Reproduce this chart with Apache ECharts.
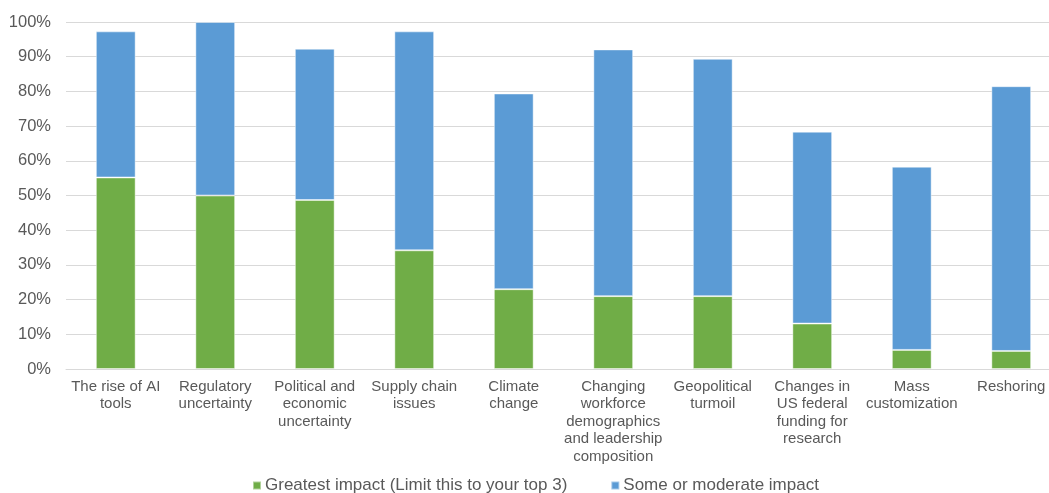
<!DOCTYPE html>
<html>
<head>
<meta charset="utf-8">
<script src="https://cdn.jsdelivr.net/npm/echarts@6/dist/echarts.min.js"></script>
<style>
  html, body { margin: 0; padding: 0; background: #fff; overflow: hidden; }
  #chart { width: 1049px; height: 493px; }
</style>
</head>
<body>
<div id="chart"></div>
<script>
// Factors and their share of respondents (%)
const categories = [
  'The rise of AI\ntools',
  'Regulatory\nuncertainty',
  'Political and\neconomic\nuncertainty',
  'Supply chain\nissues',
  'Climate\nchange',
  'Changing\nworkforce\ndemographics\nand leadership\ncomposition',
  'Geopolitical\nturmoil',
  'Changes in\nUS federal\nfunding for\nresearch',
  'Mass\ncustomization',
  'Reshoring'
];
const greatestImpact = [55.2, 50.0, 48.7, 34.2, 23.0, 21.0, 21.0, 13.1, 5.5, 5.2];
const someImpact     = [42.1, 50.0, 43.6, 63.1, 56.4, 71.1, 68.4, 55.3, 52.8, 76.3];
const seriesNames = ['Greatest impact (Limit this to your top 3)', 'Some or moderate impact'];

const font = '"Liberation Sans", Arial, sans-serif';
const chart = echarts.init(document.getElementById('chart'), null, { renderer: 'canvas' });

chart.setOption({
  animation: false,
  // plot area runs a little past the right edge of the canvas
  grid: {
    left: 66, width: 995, top: 22, height: 347,
    containLabel: false, outerBoundsMode: 'none'
  },
  legend: {
    top: 472,
    left: 247,
    itemWidth: 8,
    itemHeight: 8,
    itemGap: 43,
    icon: 'rect',
    textStyle: { color: '#595959', fontSize: 17, fontFamily: font, padding: [0, 0, 0, -1] },
    data: seriesNames
  },
  xAxis: {
    type: 'category',
    data: categories,
    axisLine: { lineStyle: { color: '#d9d9d9', width: 1 } },
    axisTick: { show: false },
    axisLabel: {
      color: '#595959', fontSize: 15, fontFamily: font,
      lineHeight: 17.5, margin: 9, interval: 0
    }
  },
  yAxis: {
    type: 'value',
    min: 0, max: 100, interval: 10,
    axisLine: { show: false },
    axisTick: { show: false },
    splitLine: { lineStyle: { color: '#d9d9d9', width: 1 } },
    axisLabel: {
      color: '#595959', fontSize: 16.5, fontFamily: font,
      margin: 15, formatter: '{value}%'
    }
  },
  series: [
    {
      name: seriesNames[0], type: 'bar', stack: 'total', data: greatestImpact,
      barWidth: '40%',
      itemStyle: { color: '#70AD47', borderColor: 'rgba(255,255,255,0.45)', borderWidth: 1 }
    },
    {
      name: seriesNames[1], type: 'bar', stack: 'total', data: someImpact,
      barWidth: '40%',
      itemStyle: { color: '#5B9BD5', borderColor: 'rgba(255,255,255,0.45)', borderWidth: 1 }
    }
  ]
});
</script>
</body>
</html>
